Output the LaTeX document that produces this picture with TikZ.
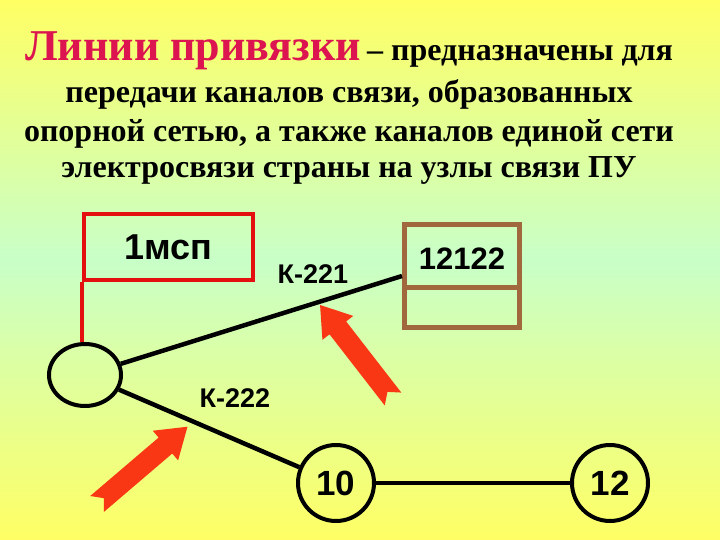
\documentclass[tikz,border=0pt]{standalone}
\usepackage{fontspec}
\setmainfont{Liberation Serif}
\newfontfamily\arialfont{Liberation Sans}
\usetikzlibrary{shapes.geometric}
\definecolor{bgyellow}{RGB}{255,255,100}
\definecolor{bggreen}{RGB}{200,255,200}
\definecolor{titlered}{RGB}{220,20,80}
\definecolor{boxred}{RGB}{228,16,16}
\definecolor{boxbrown}{RGB}{160,104,60}
\definecolor{arrowred}{RGB}{250,55,20}
\tikzset{
  bodytext/.style={inner sep=0pt, font=\bfseries\fontsize{32}{32}\selectfont, text=black},
  lbl/.style={inner sep=0pt, font=\arialfont\bfseries\fontsize{27}{27}\selectfont},
  wire/.style={line width=4.5pt, draw=black},
  nodecircle/.style={circle, draw=black, line width=4pt, minimum size=76pt, inner sep=0pt,
     font=\arialfont\bfseries\fontsize{35}{35}\selectfont},
  pics/notcharrow/.style={code={
     \fill[arrowred] (0,-10.5) -- (90,-10.5) -- (90,-19.5) -- (119,0) -- (90,19.5) -- (90,10.5) -- (0,10.5) -- (9,0) -- cycle;
  }}
}
\begin{document}
\begin{tikzpicture}[x=1pt,y=-1pt]
\useasboundingbox (0,0) rectangle (720,540);
% background
\shade[top color=bgyellow, bottom color=bggreen] (0,0) rectangle (720,260);
\shade[top color=bggreen, bottom color=bgyellow] (0,259.5) rectangle (720,540);
% title
\node[anchor=base west, inner sep=0pt, text=titlered, font=\bfseries\fontsize{44}{44}\selectfont] (t1) at (25,61) {Линии привязки};
\node[anchor=base west, bodytext] (t2) at (367,61) {– предназначены для};
\node[anchor=base, bodytext] (t3) at (349,103) {передачи каналов связи, образованных};
\node[anchor=base, bodytext] (t4) at (349,142) {опорной сетью, а также каналов единой сети};
\node[anchor=base, bodytext] (t5) at (349,178) {электросвязи страны на узлы связи ПУ};
% nodes
\node[draw=boxred, line width=4.5pt, minimum width=169pt, minimum height=66pt, inner sep=0pt,
      font=\arialfont\bfseries\fontsize{36}{36}\selectfont] (msp) at (168.5,247) {1мсп};
\node[ellipse, draw=black, line width=4pt, minimum width=72pt, minimum height=62pt, inner sep=0pt] (pu) at (85,375) {};
\node[draw=boxbrown, line width=5pt, minimum width=115pt, minimum height=103pt, inner sep=0pt] (box) at (462,276) {};
\node[inner sep=0pt, font=\arialfont\bfseries\fontsize{31}{31}\selectfont] (num) at (462,259) {12122};
\coordinate (divl) at (404.5,287);
\coordinate (divr) at (519.5,287);
\draw[draw=boxbrown, line width=5pt] (divl) -- (divr);
\node[nodecircle] (c10) at (336,483) {10};
\node[nodecircle] (c12) at (610,483) {12};
% connectors
\draw[draw=boxred, line width=4.5pt] (msp.south west) -- (msp.south west |- pu.north);
\draw[wire] (pu) -- (box.west);
\draw[wire] (pu) -- (c10);
\draw[wire] (c10) -- (c12);
% labels
\node[lbl] (k221) at (313,274) {К-221};
\node[lbl] (k222) at (235,398) {К-222};
% arrows
\pic[shift={(97,504)}, rotate=40.5] {notcharrow};
\pic[shift={(393,399)}, rotate=127.8] {notcharrow};
\end{tikzpicture}
\end{document}
